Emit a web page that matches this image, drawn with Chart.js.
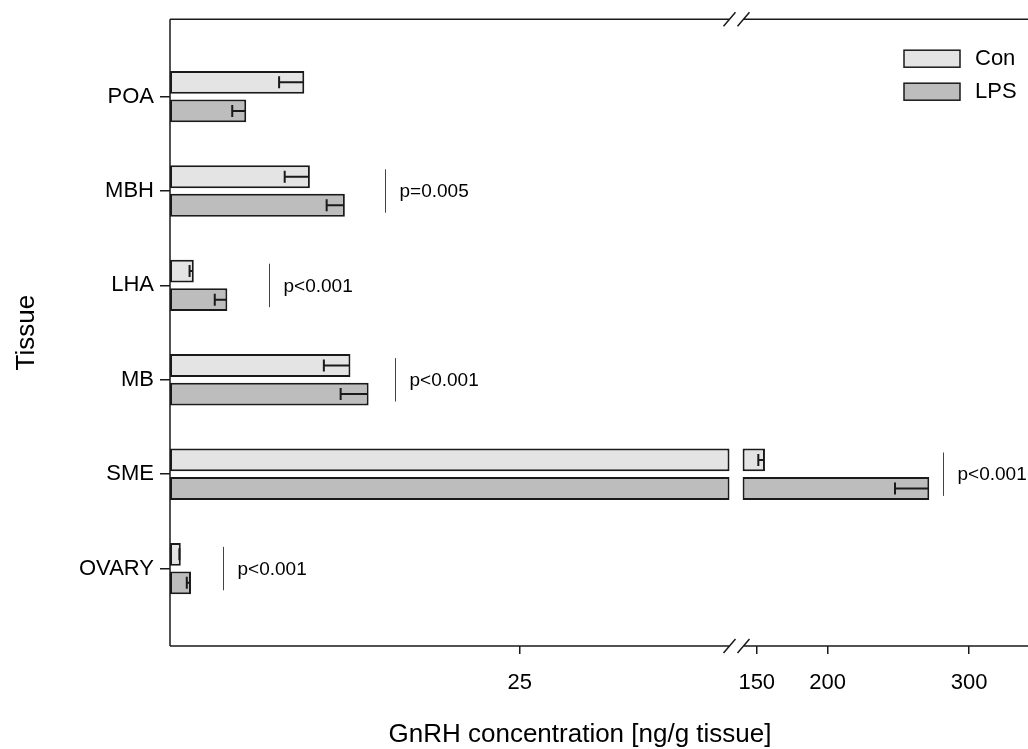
<!DOCTYPE html>
<html>
<head>
<meta charset="utf-8">
<script src="https://cdn.jsdelivr.net/npm/chart.js@4.4.0/dist/chart.umd.min.js"></script>
<style>
  html, body { margin: 0; padding: 0; background: #fff; }
</style>
</head>
<body>
<canvas id="gnrhChart" width="1028" height="749"></canvas>
<script>
const tissues = ['POA', 'MBH', 'LHA', 'MB', 'SME', 'OVARY'];
const conMean = [9.6, 10.0, 1.7, 12.9, 155.8, 0.77];
const conSem = [1.8, 1.8, 0.3, 1.9, 4.7, 0.1];
const lpsMean = [5.45, 12.5, 4.1, 14.2, 271.8, 1.5];
const lpsSem = [1.0, 1.3, 0.9, 2.0, 24.2, 0.3];
const pText = [null, 'p=0.005', 'p<0.001', 'p<0.001', 'p<0.001', 'p<0.001'];
const pLineAt = [null, 15.4, 7.1, 16.1, 281.2, 3.8];
const lowTicks = [25];
const highTicks = [150, 200, 300];

// axis break: low segment 0..40, high segment from 140 on
const BREAK_LO = 40;
const BREAK_HI = 140;

const FONT = "'Liberation Sans', Arial, sans-serif";
const INK = '#1a1a1a';
const CON_FILL = '#e4e4e4';
const LPS_FILL = '#bdbdbd';

const lowPart = (mean) => mean.map((v, i) => ({ x: Math.min(v, BREAK_LO), y: i + 1 }));
const highPart = (mean) => mean.map((v, i) => ({ x: v > BREAK_LO ? [BREAK_HI, v] : null, y: i + 1 }));

const barStyle = {
  borderColor: INK,
  borderWidth: 2,
  borderSkipped: false,
  categoryPercentage: 0.605,
  barPercentage: 0.8
};

const notes = {
  id: 'notes',
  afterDatasetsDraw(chart) {
    const { ctx, scales } = chart;
    const { x, x2, y } = scales;
    ctx.save();
    ctx.strokeStyle = INK;
    ctx.lineWidth = 2;

    // error bars (cap at mean - SEM, line back to bar end)
    [[conMean, conSem, 0], [lpsMean, lpsSem, 1]].forEach(([mean, sem, ds]) => {
      mean.forEach((v, i) => {
        const high = v > BREAK_LO;
        const el = chart.getDatasetMeta(high ? ds + 2 : ds).data[i];
        const sc = high ? x2 : x;
        const xLow = sc.getPixelForValue(v - sem[i]);
        ctx.beginPath();
        ctx.moveTo(xLow, el.y);
        ctx.lineTo(el.x - 1, el.y);
        ctx.moveTo(xLow, el.y - 6);
        ctx.lineTo(xLow, el.y + 6);
        ctx.stroke();
      });
    });

    // p-value brackets
    ctx.lineWidth = 1;
    ctx.strokeStyle = '#444';
    ctx.fillStyle = '#000';
    ctx.font = '19px ' + FONT;
    ctx.textBaseline = 'middle';
    ctx.textAlign = 'left';
    pText.forEach((t, i) => {
      if (!t) return;
      const sc = pLineAt[i] > BREAK_LO ? x2 : x;
      const px = Math.round(sc.getPixelForValue(pLineAt[i])) + 0.5;
      ctx.beginPath();
      ctx.moveTo(px, y.getPixelForValue(i + 1 - 0.23));
      ctx.lineTo(px, y.getPixelForValue(i + 1 + 0.23));
      ctx.stroke();
      ctx.fillText(t, px + 14, y.getPixelForValue(i + 1) + 1);
    });
    ctx.restore();
  },
  afterDraw(chart) {
    const { ctx, chartArea: a, scales: { x, x2 } } = chart;
    const gapL = x.right - 7;
    const gapR = x2.left + 7;
    ctx.save();
    ctx.strokeStyle = INK;
    ctx.lineWidth = 1.5;
    ctx.beginPath();
    ctx.moveTo(a.left, a.top);
    ctx.lineTo(a.left, a.bottom);
    [a.top, a.bottom].forEach(yy => {
      ctx.moveTo(a.left, yy);
      ctx.lineTo(gapL, yy);
      ctx.moveTo(gapR, yy);
      ctx.lineTo(a.right, yy);
      [gapL, gapR].forEach(xx => {
        ctx.moveTo(xx - 6, yy + 7);
        ctx.lineTo(xx + 6, yy - 7);
      });
    });
    ctx.stroke();

    // legend
    const lx = a.right - 124;
    [['Con', CON_FILL], ['LPS', LPS_FILL]].forEach(([name, fill], k) => {
      const ly = a.top + 31 + k * 33;
      ctx.fillStyle = fill;
      ctx.fillRect(lx, ly, 56, 17);
      ctx.lineWidth = 1.5;
      ctx.strokeRect(lx, ly, 56, 17);
      ctx.fillStyle = '#000';
      ctx.font = '22px ' + FONT;
      ctx.textBaseline = 'middle';
      ctx.textAlign = 'left';
      ctx.fillText(name, lx + 71, ly + 9);
    });

    // shared x title for both segments
    ctx.font = '26px ' + FONT;
    ctx.textAlign = 'center';
    ctx.textBaseline = 'alphabetic';
    ctx.fillText('GnRH concentration [ng/g tissue]', 580, 742);
    ctx.restore();
  }
};

const xAxisCommon = {
  type: 'linear',
  position: 'bottom',
  stack: 'gnrh',
  grid: { display: true, drawOnChartArea: false, tickLength: 8, color: INK, lineWidth: 1.5 },
  border: { display: false },
  ticks: { font: { family: FONT, size: 22 }, color: '#000', padding: 16 },
  afterFit(scale) { scale.height = 103; }
};

new Chart(document.getElementById('gnrhChart'), {
  type: 'bar',
  data: {
    datasets: [
      { label: 'Con', data: lowPart(conMean), xAxisID: 'x', yAxisID: 'y', stack: 'con', backgroundColor: CON_FILL, ...barStyle },
      { label: 'LPS', data: lowPart(lpsMean), xAxisID: 'x', yAxisID: 'y', stack: 'lps', backgroundColor: LPS_FILL, ...barStyle },
      { label: 'Con', data: highPart(conMean), xAxisID: 'x2', yAxisID: 'y', stack: 'con', backgroundColor: CON_FILL, ...barStyle },
      { label: 'LPS', data: highPart(lpsMean), xAxisID: 'x2', yAxisID: 'y', stack: 'lps', backgroundColor: LPS_FILL, ...barStyle }
    ]
  },
  options: {
    indexAxis: 'y',
    responsive: false,
    animation: false,
    layout: { padding: { top: 17, left: 0, right: 0, bottom: 0 } },
    plugins: { legend: { display: false }, tooltip: { enabled: false } },
    scales: {
      x: {
        ...xAxisCommon,
        stackWeight: 566.5,
        min: 0,
        max: 40.5,
        stacked: false,
        afterBuildTicks(scale) { scale.ticks = lowTicks.map(v => ({ value: v })); }
      },
      x2: {
        ...xAxisCommon,
        stackWeight: 291.5,
        min: 135.7,
        max: 341.5,
        stacked: false,
        afterBuildTicks(scale) { scale.ticks = highTicks.map(v => ({ value: v })); }
      },
      y: {
        type: 'linear',
        position: 'left',
        reverse: true,
        offset: false,
        min: 0.18,
        max: 6.82,
        grid: { display: true, offset: false, drawOnChartArea: false, tickLength: 10, color: INK, lineWidth: 1.5 },
        border: { display: false },
        ticks: {
          font: { family: FONT, size: 22 },
          color: '#000',
          padding: 6,
          callback: (v) => tissues[v - 1] ?? ''
        },
        title: {
          display: true,
          text: 'Tissue',
          color: '#000',
          font: { family: FONT, size: 26 },
          padding: { top: 11, bottom: 0 }
        },
        afterBuildTicks(scale) { scale.ticks = tissues.map((t, i) => ({ value: i + 1 })); },
        afterFit(scale) { scale.width = 170; }
      }
    }
  },
  plugins: [notes]
});
</script>
</body>
</html>
